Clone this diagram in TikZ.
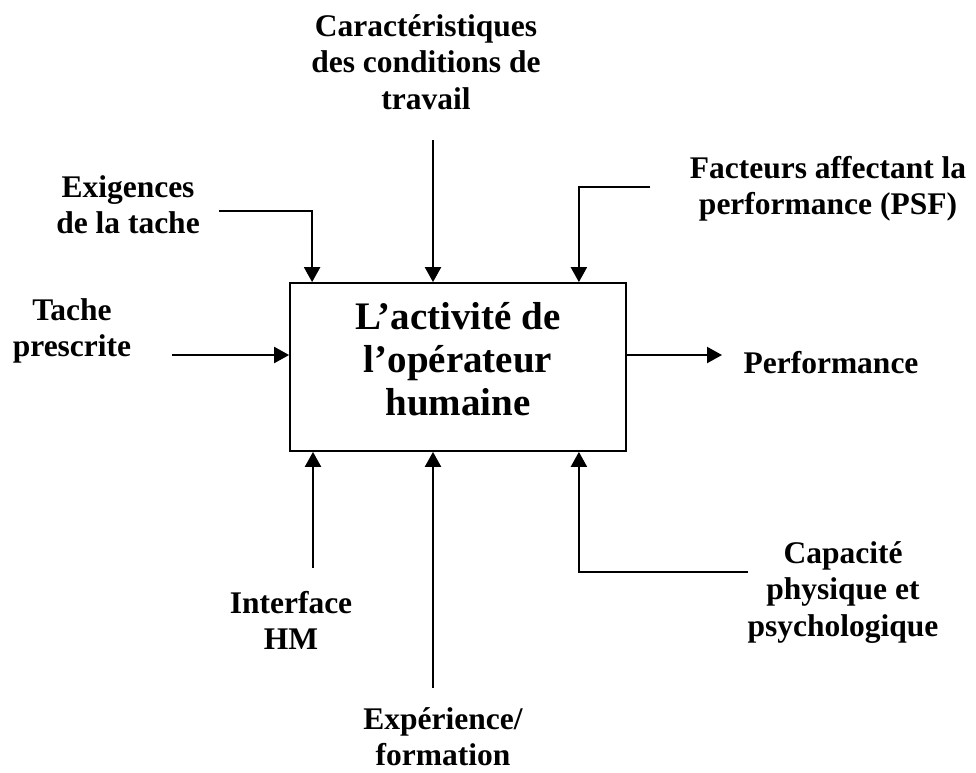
\documentclass[tikz,border=0pt]{standalone}
\usepackage{fontspec}
\setmainfont{Liberation Serif}
\usetikzlibrary{arrows.meta}
\begin{document}
\begin{tikzpicture}[x=1pt,y=-1pt,
  lbl/.style={font=\fontsize{31.5}{36.5}\selectfont\bfseries, align=center, inner sep=0pt, anchor=north},
  maintxt/.style={font=\fontsize{39}{43}\selectfont\bfseries, align=center, inner sep=0pt, anchor=north},
  actbox/.style={draw, line width=1.8pt, minimum width=336pt, minimum height=168pt, inner sep=0pt},
  arr/.style={line width=2.2pt, -{Triangle[length=15pt,width=16pt]}}]
\useasboundingbox (0,0) rectangle (976,772);

% central activity box and its title
\node[actbox] (act) at (458,367) {};
\node[maintxt] (acttext) at (458,302) {L’activité de\\l’opérateur\\humaine};

% labels around the box
\node[lbl] (caract) at (426,14) {Caractéristiques\\des conditions de\\travail};
\node[lbl] (exig) at (128,175) {Exigences\\de la tache};
\node[lbl] (psf) at (828,156) {Facteurs affectant la\\performance (PSF)};
\node[lbl] (tache) at (72,298) {Tache\\prescrite};
\node[lbl] (perf) at (831,351) {Performance};
\node[lbl] (capa) at (843,541) {Capacité\\physique et\\psychologique};
\node[lbl] (inter) at (291,591) {Interface\\HM};
\node[lbl] (exper) at (443,707) {Expérience/\\formation};

% free ends of the connectors
\coordinate (exigS) at (219,211);
\coordinate (caractS) at (433,140);
\coordinate (psfS) at (650,187);
\coordinate (tacheS) at (172,355);
\coordinate (perfE) at (722,355);
\coordinate (interS) at (313,568);
\coordinate (experS) at (433,688);
\coordinate (capaS) at (748,572);

% inputs from above
\draw[arr] (exigS) -| ([xshift=23pt]act.north west);
\draw[arr] (caractS) -- (caractS |- act.north);
\draw[arr] (psfS) -| ([xshift=-48pt]act.north east);

% input from the left, output to the right
\draw[arr] (tacheS) -- (tacheS -| act.west);
\draw[arr] (perfE -| act.east) -- (perfE);

% inputs from below
\draw[arr] (interS) -- (interS |- act.south);
\draw[arr] (experS) -- (experS |- act.south);
\draw[arr] (capaS) -| ([xshift=-48pt]act.south east);
\end{tikzpicture}
\end{document}
